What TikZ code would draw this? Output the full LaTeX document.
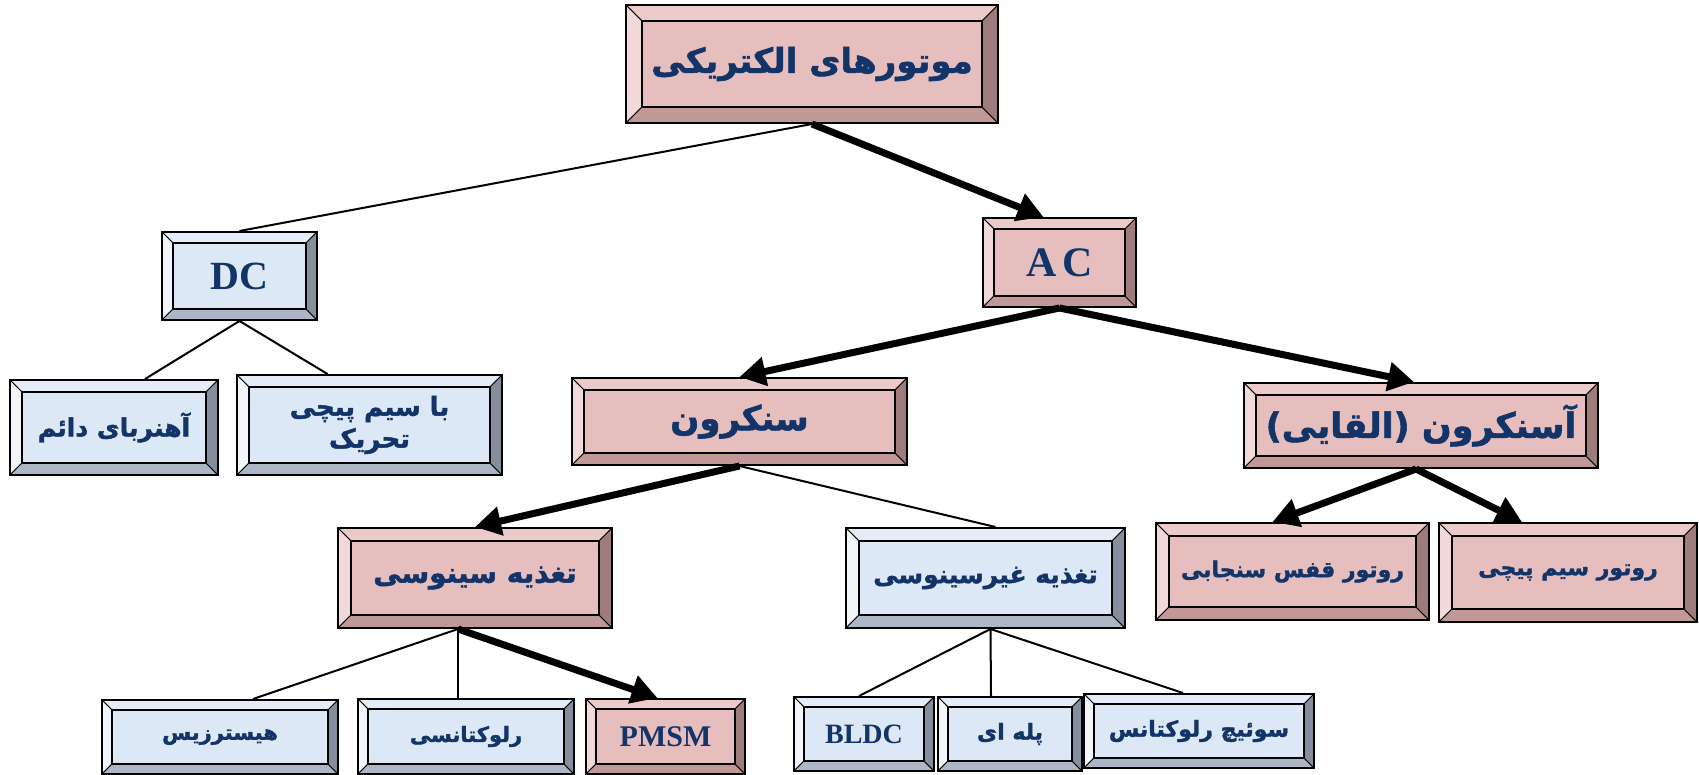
\documentclass[tikz,border=0pt]{standalone}
\usepackage{fontspec}
\setmainfont{Liberation Serif}
\newfontfamily\farsi[Script=Arabic, BoldFeatures={FakeBold=1.6}]{DejaVu Sans}
\TeXXeTstate=1
\usetikzlibrary{arrows.meta}

\definecolor{navy}{RGB}{18,52,104}
\definecolor{pinkface}{RGB}{230,190,190}
\definecolor{pinktop}{RGB}{236,202,202}
\definecolor{pinkleft}{RGB}{242,216,216}
\definecolor{pinkbottom}{RGB}{192,152,152}
\definecolor{pinkright}{RGB}{158,124,124}
\definecolor{blueface}{RGB}{220,232,245}
\definecolor{bluetop}{RGB}{228,237,247}
\definecolor{blueleft}{RGB}{242,246,251}
\definecolor{bluebottom}{RGB}{172,182,196}
\definecolor{blueright}{RGB}{132,142,156}

\newcommand{\fatext}[1]{\beginR #1\endR}
\newcommand{\bevelfaces}[4]{%
  \path (path picture bounding box.north west) coordinate (onw)
        (path picture bounding box.north east) coordinate (one)
        (path picture bounding box.south west) coordinate (osw)
        (path picture bounding box.south east) coordinate (ose)
        ([xshift=\bevw,yshift=-\bevw]onw) coordinate (inw)
        ([xshift=-\bevw,yshift=-\bevw]one) coordinate (ine)
        ([xshift=\bevw,yshift=\bevw]osw) coordinate (isw)
        ([xshift=-\bevw,yshift=\bevw]ose) coordinate (ise);
  \filldraw[fill=#1,line width=1pt] (onw) -- (one) -- (ine) -- (inw) -- cycle;
  \filldraw[fill=#2,line width=1pt] (onw) -- (inw) -- (isw) -- (osw) -- cycle;
  \filldraw[fill=#3,line width=1pt] (osw) -- (isw) -- (ise) -- (ose) -- cycle;
  \filldraw[fill=#4,line width=1pt] (one) -- (ine) -- (ise) -- (ose) -- cycle;
  \draw[line width=1.8pt] (inw) rectangle (ise);}

\tikzset{
  bev/.code={\def\bevw{#1pt}},
  bevelbox/.style n args={4}{draw=black, line width=2pt, rectangle, inner sep=0pt,
    align=center, text=navy, bev=12, path picture={\bevelfaces{#1}{#2}{#3}{#4}}},
  pinkbox/.style={bevelbox={pinktop}{pinkleft}{pinkbottom}{pinkright}, fill=pinkface},
  bluebox/.style={bevelbox={bluetop}{blueleft}{bluebottom}{blueright}, fill=blueface},
  fa/.style={font=\farsi\bfseries\fontsize{#1}{32}\selectfont},
  la/.style={font=\bfseries\fontsize{#1}{#1}\selectfont},
  thinline/.style={line width=2pt},
  thickarrow/.style={line width=7pt, -{Triangle[length=26pt,width=28pt]}}
}

\begin{document}
\begin{tikzpicture}[x=1pt,y=-1pt]
  \useasboundingbox (0,0) rectangle (1699,775);

  \node[pinkbox, bev=16, minimum width=372pt, minimum height=118pt, fa=34] (motors) at (812,64) {\fatext{موتورهای الکتریکی}};

  \node[bluebox, bev=11, minimum width=155pt, minimum height=88pt, la=40] (dc) at (239.5,276) {DC};
  \node[pinkbox, bev=11, minimum width=153pt, minimum height=89pt, la=42] (ac) at (1059.5,262.5) {A\kern5pt C};

  \node[bluebox, minimum width=208pt, minimum height=95pt, fa=25] (pmag) at (114,427.5) {\fatext{آهنربای دائم}};
  \node[bluebox, minimum width=265pt, minimum height=100pt, fa=26] (wound) at (369.5,425) {\fatext{با سیم پیچی}\\\fatext{تحریک}};
  \node[pinkbox, minimum width=335pt, minimum height=87pt, fa=34] (sync) at (739.5,421.5) {\fatext{سنکرون}};
  \node[pinkbox, minimum width=354pt, minimum height=85pt, fa=35] (async) at (1421,425.5) {\fatext{آسنکرون (القایی)}};

  \node[pinkbox, bev=13, minimum width=274pt, minimum height=100pt, fa=28] (sine) at (475,578) {\fatext{تغذیه سینوسی}};
  \node[bluebox, bev=13, minimum width=279pt, minimum height=100pt, fa=25] (nonsine) at (985.5,578) {\fatext{تغذیه غیرسینوسی}};
  \node[pinkbox, bev=13, minimum width=273pt, minimum height=97pt, fa=22] (cage) at (1292.5,571.5) {\fatext{روتور قفس سنجابی}};
  \node[pinkbox, bev=13, minimum width=258pt, minimum height=99pt, fa=22] (wrotor) at (1568,572.5) {\fatext{روتور سیم پیچی}};

  \node[bluebox, bev=10, minimum width=236pt, minimum height=74pt, fa=21] (hyst) at (220,737) {\fatext{هیسترزیس}};
  \node[bluebox, bev=10, minimum width=216pt, minimum height=75pt, fa=21] (rel) at (466,736.5) {\fatext{رلوکتانسی}};
  \node[pinkbox, bev=10, minimum width=159pt, minimum height=75pt, la=30] (pmsm) at (665.5,736.5) {PMSM};
  \node[bluebox, bev=10, minimum width=140pt, minimum height=74pt, la=28] (bldc) at (864,734) {BLDC};
  \node[bluebox, bev=10, minimum width=144pt, minimum height=74pt, fa=22] (stepper) at (1010,734) {\fatext{پله ای}};
  \node[bluebox, bev=10, minimum width=230pt, minimum height=74pt, fa=22] (srm) at (1199,731) {\fatext{سوئیچ رلوکتانس}};

  \draw[thinline] (motors.south) -- (dc.north);
  \draw[thickarrow] (motors.south) -- ([xshift=-16pt]ac.north);

  \draw[thinline] (dc.south) -- ([xshift=31pt]pmag.north);
  \draw[thinline] (dc.south) -- ([xshift=-42pt]wound.north);

  \draw[thickarrow] (ac.south) -- (sync.north);
  \draw[thickarrow] (ac.south) -- ([xshift=-7pt]async.north);

  \draw[thickarrow] (sync.south) -- (sine.north);
  \draw[thinline] (sync.south) -- ([xshift=10pt]nonsine.north);

  \draw[thickarrow] ([xshift=-5pt]async.south) -- ([xshift=-20pt]cage.north);
  \draw[thickarrow] ([xshift=-5pt]async.south) -- ([xshift=-46pt]wrotor.north);

  \draw[thinline] ([xshift=-17pt]sine.south) -- ([xshift=33pt]hyst.north);
  \draw[thinline] ([xshift=-17pt]sine.south) -- ([xshift=-8pt]rel.north);
  \draw[thickarrow] ([xshift=-17pt]sine.south) -- ([xshift=-8pt]pmsm.north);

  \draw[thinline] ([xshift=5pt]nonsine.south) -- ([xshift=-5pt]bldc.north);
  \draw[thinline] ([xshift=5pt]nonsine.south) -- ([xshift=-19pt]stepper.north);
  \draw[thinline] ([xshift=5pt]nonsine.south) -- ([xshift=-16pt]srm.north);
\end{tikzpicture}
\end{document}
